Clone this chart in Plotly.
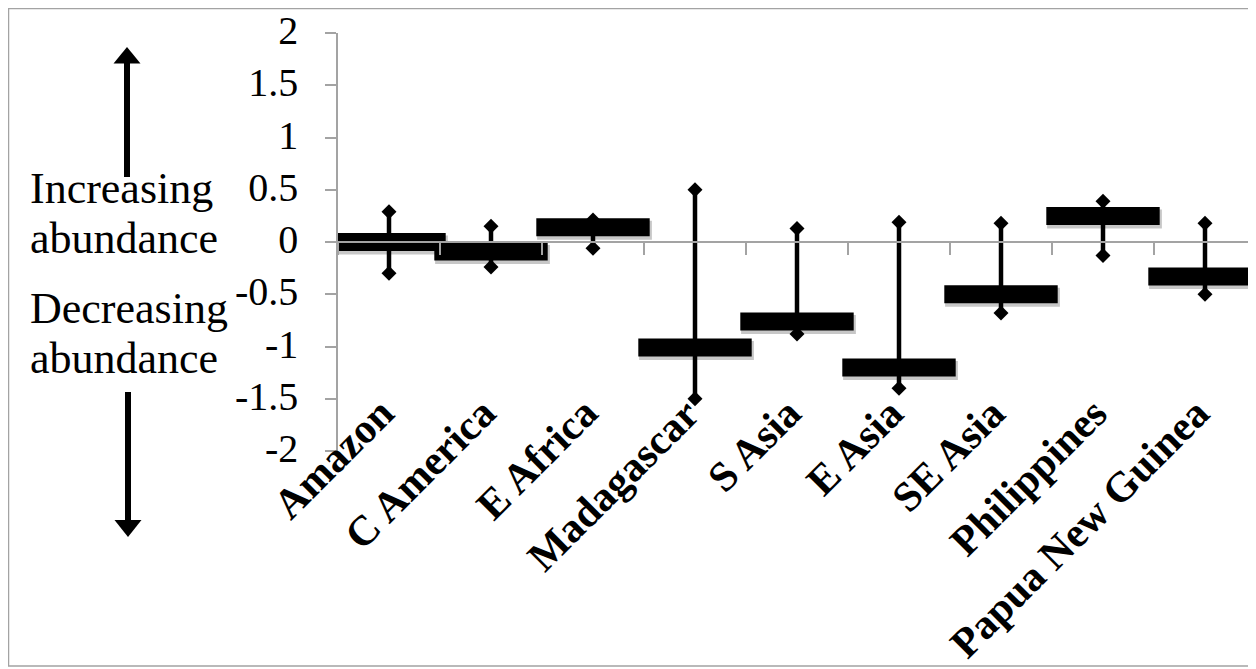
import plotly.graph_objects as go

# ---------------- data ----------------
categories = ["Amazon", "C America", "E Africa", "Madagascar", "S Asia",
              "E Asia", "SE Asia", "Philippines", "Papua New Guinea"]
mean_vals = [0.00, -0.09, 0.14, -1.01, -0.76, -1.20, -0.50, 0.25, -0.33]
upper_vals = [0.29, 0.15, 0.21, 0.50, 0.13, 0.19, 0.18, 0.39, 0.18]
lower_vals = [-0.30, -0.24, -0.06, -1.50, -0.88, -1.40, -0.68, -0.13, -0.50]
y_tick_vals = [2, 1.5, 1, 0.5, 0, -0.5, -1, -1.5, -2]
y_tick_text = ["2", "1.5", "1", "0.5", "0", "-0.5", "-1", "-1.5", "-2"]
side_labels = ["Increasing", "abundance", "Decreasing", "abundance"]

# ---------------- layout geometry ----------------
# the page body adds an 8px margin, so the figure is drawn 8px smaller
# and every reference pixel position is shifted by OFF.
OFF = 8
W, H = 1256 - OFF, 669 - OFF
L, R, T = 338 - OFF, 0, 33 - OFF
PH = 418
B = H - T - PH
PW = W - L - R
SERIF = "Liberation Serif"
GREY = "#a3a3a3"
Y_PER_PX = 4.0 / PH
X_PER_PX = len(categories) / PW


def px(xp):
    return (xp - OFF - L) / PW


def py(yp):
    return (H - B - (yp - OFF)) / PH


xpos = [i + 0.5 for i in range(len(categories))]

fig = go.Figure()

# whiskers
wx, wy = [], []
for x, lo, hi in zip(xpos, lower_vals, upper_vals):
    wx += [x, x, None]
    wy += [lo, hi, None]
fig.add_trace(go.Scatter(x=wx, y=wy, mode="lines",
                         line=dict(color="black", width=4.5),
                         hoverinfo="skip", showlegend=False))

# soft drop shadow of the mean bars (offset a few pixels down/right)
fig.add_trace(go.Scatter(x=[x + 1.5 * X_PER_PX for x in xpos],
                         y=[m - 3 * Y_PER_PX for m in mean_vals], mode="markers",
                         marker=dict(symbol="line-ew", size=82,
                                     color="rgba(0,0,0,0.22)",
                                     line=dict(color="rgba(0,0,0,0.22)", width=19)),
                         hoverinfo="skip", showlegend=False))

# mean bars
fig.add_trace(go.Scatter(x=xpos, y=mean_vals, mode="markers",
                         marker=dict(symbol="line-ew", size=81, color="black",
                                     line=dict(color="black", width=18)),
                         showlegend=False))

# diamonds at ends
fig.add_trace(go.Scatter(x=xpos + xpos, y=upper_vals + lower_vals, mode="markers",
                         marker=dict(symbol="diamond", size=11.5, color="black",
                                     line=dict(width=0)),
                         showlegend=False))

annotations = []
for x, name in zip(xpos, categories):
    annotations.append(dict(
        x=x, xref="x", y=0, yref="paper", text=name, showarrow=False,
        xanchor="right", yanchor="top", textangle=-45,
        xshift=16, yshift=64,
        font=dict(family=SERIF, size=42, color="black", weight="bold")))

side_centers = [188.5, 238.5, 308.5, 358.5]
for txt, yc in zip(side_labels, side_centers):
    annotations.append(dict(
        x=px(28), xref="paper", y=py(yc), yref="paper", text=txt,
        showarrow=False, xanchor="left", yanchor="middle",
        font=dict(family=SERIF, size=44, color="black")))


def path(points):
    return "M " + " L ".join(f"{px(a)},{py(b)}" for a, b in points) + " Z"


shapes = [
    # outer border
    dict(type="rect", xref="paper", yref="paper",
         x0=px(8.5), x1=px(1255), y0=py(666), y1=py(8.5),
         line=dict(color=GREY, width=1.5), layer="below"),
    # up arrow
    dict(type="line", xref="paper", yref="paper",
         x0=px(127), x1=px(127), y0=py(177), y1=py(60),
         line=dict(color="black", width=6)),
    dict(type="path", xref="paper", yref="paper",
         path=path([(127, 47), (113.5, 63.5), (140.5, 63.5)]),
         fillcolor="black", line=dict(width=0)),
    # down arrow
    dict(type="line", xref="paper", yref="paper",
         x0=px(128), x1=px(128), y0=py(392), y1=py(523),
         line=dict(color="black", width=6)),
    dict(type="path", xref="paper", yref="paper",
         path=path([(128, 537), (114.5, 520), (141.5, 520)]),
         fillcolor="black", line=dict(width=0)),
]

fig.update_layout(
    width=W, height=H,
    margin=dict(l=L, r=R, t=T, b=B),
    paper_bgcolor="white", plot_bgcolor="white",
    showlegend=False,
    annotations=annotations,
    shapes=shapes,
    xaxis=dict(range=[0, len(categories)], anchor="free", position=0.5,
               showline=True, linecolor=GREY, linewidth=1.5,
               ticks="outside", tickvals=list(range(len(categories) + 1)),
               ticklen=12, tickcolor=GREY, tickwidth=1.5,
               showticklabels=False, showgrid=False, zeroline=False),
    yaxis=dict(range=[-2, 2], tickvals=y_tick_vals, ticktext=y_tick_text,
               showline=True, linecolor=GREY, linewidth=1.5,
               ticks="outside", ticklen=11, tickcolor=GREY, tickwidth=1.5,
               ticklabelstandoff=19, ticklabelshift=-3,
               tickfont=dict(family=SERIF, size=40, color="black"),
               showgrid=False, zeroline=False),
)

fig.write_html("out.html")
